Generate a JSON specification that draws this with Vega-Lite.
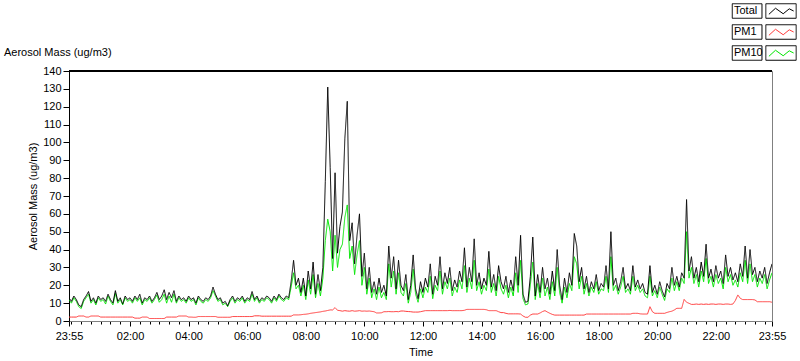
{
  "$schema": "https://vega.github.io/schema/vega-lite/v6.json",
  "width": 703,
  "height": 250,
  "autosize": {"type": "none"},
  "padding": {"left": 69, "top": 71, "right": 28, "bottom": 40},
  "background": "white",
  "title": {"text": "Aerosol Mass (ug/m3)", "anchor": "start", "frame": "group", "dx": -65, "offset": -58.5, "fontSize": 11, "fontWeight": "normal", "font": "Liberation Sans", "color": "#000"},
  "data": {"values": [
    {"t":0,"Total":13,"PM1":2.2,"PM10":12},{"t":5,"Total":11,"PM1":2.2,"PM10":10},{"t":10,"Total":14,"PM1":2.2,"PM10":13},{"t":15,"Total":12,"PM1":2.2,"PM10":11},
    {"t":20,"Total":9,"PM1":2.8,"PM10":8},{"t":25,"Total":8,"PM1":2.8,"PM10":7},{"t":30,"Total":12,"PM1":2.8,"PM10":11},{"t":35,"Total":14,"PM1":2.2,"PM10":13},
    {"t":40,"Total":16.5,"PM1":2.2,"PM10":15},{"t":45,"Total":11,"PM1":2.8,"PM10":10},{"t":50,"Total":13,"PM1":2.8,"PM10":12},{"t":55,"Total":10,"PM1":2.8,"PM10":9},
    {"t":60,"Total":14,"PM1":2.8,"PM10":13},{"t":65,"Total":12,"PM1":2.2,"PM10":11},{"t":70,"Total":13,"PM1":2.2,"PM10":12},{"t":75,"Total":11,"PM1":2.2,"PM10":9.5},
    {"t":80,"Total":15,"PM1":2.2,"PM10":14},{"t":85,"Total":12,"PM1":2.2,"PM10":11},{"t":90,"Total":10,"PM1":2.2,"PM10":9},{"t":95,"Total":17,"PM1":2.2,"PM10":15.5},
    {"t":100,"Total":11,"PM1":2.2,"PM10":10},{"t":105,"Total":13,"PM1":2.2,"PM10":12},{"t":110,"Total":9.5,"PM1":2.2,"PM10":9},{"t":115,"Total":14,"PM1":2.2,"PM10":13},
    {"t":120,"Total":12,"PM1":2.2,"PM10":11},{"t":125,"Total":13,"PM1":2.2,"PM10":12},{"t":130,"Total":11,"PM1":2.2,"PM10":10},{"t":135,"Total":14,"PM1":1.6,"PM10":13},
    {"t":140,"Total":12,"PM1":1.6,"PM10":11},{"t":145,"Total":15,"PM1":1.6,"PM10":13},{"t":150,"Total":10,"PM1":2.2,"PM10":9},{"t":155,"Total":13,"PM1":2.2,"PM10":12},
    {"t":160,"Total":12,"PM1":2.2,"PM10":11},{"t":165,"Total":14,"PM1":1.4,"PM10":13},{"t":170,"Total":11,"PM1":1.4,"PM10":10},{"t":175,"Total":13,"PM1":1.4,"PM10":12},
    {"t":180,"Total":16,"PM1":1.4,"PM10":14.5},{"t":185,"Total":12,"PM1":1.4,"PM10":10.5},{"t":190,"Total":14,"PM1":1.4,"PM10":12},{"t":195,"Total":17.5,"PM1":1.4,"PM10":15},
    {"t":200,"Total":12,"PM1":2.2,"PM10":10},{"t":205,"Total":16,"PM1":2.2,"PM10":14},{"t":210,"Total":13,"PM1":2.2,"PM10":10.5},{"t":215,"Total":17,"PM1":2.2,"PM10":15},
    {"t":220,"Total":11,"PM1":2.2,"PM10":10},{"t":225,"Total":14,"PM1":2.8,"PM10":13},{"t":230,"Total":12,"PM1":2.8,"PM10":11},{"t":235,"Total":13,"PM1":2.8,"PM10":12},
    {"t":240,"Total":11,"PM1":2.8,"PM10":10},{"t":245,"Total":14,"PM1":2.2,"PM10":13},{"t":250,"Total":12,"PM1":2.2,"PM10":11},{"t":255,"Total":13,"PM1":2.1,"PM10":12},
    {"t":260,"Total":10,"PM1":2.1,"PM10":9},{"t":265,"Total":14,"PM1":2.5,"PM10":13},{"t":270,"Total":12,"PM1":2.5,"PM10":11},{"t":275,"Total":11,"PM1":2.5,"PM10":10},
    {"t":280,"Total":13,"PM1":2.5,"PM10":12},{"t":285,"Total":12,"PM1":2.5,"PM10":11},{"t":290,"Total":14,"PM1":2.5,"PM10":13},{"t":295,"Total":19,"PM1":2.5,"PM10":17},
    {"t":300,"Total":15,"PM1":2.5,"PM10":14},{"t":305,"Total":12,"PM1":2.1,"PM10":11},{"t":310,"Total":13,"PM1":2.1,"PM10":12},{"t":315,"Total":10,"PM1":2.1,"PM10":9},
    {"t":320,"Total":11,"PM1":2.1,"PM10":10},{"t":325,"Total":8.5,"PM1":2.1,"PM10":8},{"t":330,"Total":12,"PM1":2.1,"PM10":11},{"t":335,"Total":14,"PM1":2.5,"PM10":13},
    {"t":340,"Total":11,"PM1":2.5,"PM10":10},{"t":345,"Total":13,"PM1":2.5,"PM10":12},{"t":350,"Total":12,"PM1":2.5,"PM10":11},{"t":355,"Total":14,"PM1":2.5,"PM10":13},
    {"t":360,"Total":11,"PM1":2.5,"PM10":10},{"t":365,"Total":13,"PM1":2.5,"PM10":12},{"t":370,"Total":12,"PM1":2.5,"PM10":11},{"t":375,"Total":16.5,"PM1":2.5,"PM10":15},
    {"t":380,"Total":12,"PM1":2.9,"PM10":11},{"t":385,"Total":14,"PM1":2.9,"PM10":13},{"t":390,"Total":11,"PM1":2.9,"PM10":10},{"t":395,"Total":13,"PM1":2.7,"PM10":12},
    {"t":400,"Total":12,"PM1":2.7,"PM10":11},{"t":405,"Total":14,"PM1":2.7,"PM10":13},{"t":410,"Total":13,"PM1":2.7,"PM10":12},{"t":415,"Total":11,"PM1":2.7,"PM10":10},
    {"t":420,"Total":14,"PM1":2.7,"PM10":13},{"t":425,"Total":12,"PM1":2.7,"PM10":11},{"t":430,"Total":15,"PM1":2.7,"PM10":14},{"t":435,"Total":13,"PM1":2.7,"PM10":12},
    {"t":440,"Total":12,"PM1":2.7,"PM10":11},{"t":445,"Total":14,"PM1":2.7,"PM10":13},{"t":450,"Total":13,"PM1":2.7,"PM10":12},{"t":455,"Total":22,"PM1":2.7,"PM10":19},
    {"t":460,"Total":34,"PM1":3.4,"PM10":27},{"t":465,"Total":20,"PM1":3.4,"PM10":18},{"t":470,"Total":24,"PM1":3.4,"PM10":20},
    {"t":475,"Total":16,"PM1":3.5,"PM10":14},{"t":480,"Total":24,"PM1":3.7,"PM10":20},{"t":485,"Total":14,"PM1":3.8,"PM10":12},{"t":490,"Total":28,"PM1":4.0,"PM10":23},
    {"t":495,"Total":18,"PM1":4.3,"PM10":15},{"t":500,"Total":33,"PM1":4.5,"PM10":26},{"t":505,"Total":15,"PM1":4.7,"PM10":13},{"t":510,"Total":26,"PM1":4.9,"PM10":21},
    {"t":515,"Total":17,"PM1":5.1,"PM10":14},{"t":520,"Total":30,"PM1":5.4,"PM10":24},{"t":525,"Total":78,"PM1":5.6,"PM10":45},{"t":530,"Total":131,"PM1":5.9,"PM10":57},
    {"t":535,"Total":86,"PM1":6.2,"PM10":50},{"t":540,"Total":35,"PM1":6.2,"PM10":28},{"t":545,"Total":83,"PM1":7.5,"PM10":48},{"t":550,"Total":38,"PM1":6.0,"PM10":30},
    {"t":555,"Total":53,"PM1":5.8,"PM10":40},{"t":560,"Total":61,"PM1":5.5,"PM10":43},{"t":565,"Total":102,"PM1":5.8,"PM10":58},{"t":570,"Total":123,"PM1":5.6,"PM10":65},
    {"t":575,"Total":45,"PM1":5.5,"PM10":35},{"t":580,"Total":55,"PM1":5.8,"PM10":42},{"t":585,"Total":32,"PM1":5.5,"PM10":26},{"t":590,"Total":48,"PM1":5.6,"PM10":37},
    {"t":595,"Total":60,"PM1":5.8,"PM10":45},{"t":600,"Total":25,"PM1":5.5,"PM10":20},{"t":605,"Total":38,"PM1":5.6,"PM10":30},{"t":610,"Total":18,"PM1":5.5,"PM10":15},
    {"t":615,"Total":30,"PM1":5.6,"PM10":24},{"t":620,"Total":16,"PM1":5.4,"PM10":13},{"t":625,"Total":22,"PM1":5.2,"PM10":18},{"t":630,"Total":15,"PM1":4.5,"PM10":12},
    {"t":635,"Total":24,"PM1":4.5,"PM10":19},{"t":640,"Total":16,"PM1":4.6,"PM10":13},{"t":645,"Total":20,"PM1":5.2,"PM10":16},{"t":650,"Total":14,"PM1":5.2,"PM10":12},
    {"t":655,"Total":42,"PM1":5.3,"PM10":32},{"t":660,"Total":24,"PM1":5.2,"PM10":19},{"t":665,"Total":36,"PM1":5.2,"PM10":28},{"t":670,"Total":18,"PM1":5.3,"PM10":15},
    {"t":675,"Total":34,"PM1":5.2,"PM10":27},{"t":680,"Total":20,"PM1":5.6,"PM10":16},
    {"t":685,"Total":17,"PM1":5.6,"PM10":14},{"t":690,"Total":26,"PM1":5.4,"PM10":21},{"t":695,"Total":12,"PM1":5.3,"PM10":10},{"t":700,"Total":20,"PM1":5.2,"PM10":16},
    {"t":705,"Total":37,"PM1":5.0,"PM10":29},{"t":710,"Total":18,"PM1":5.0,"PM10":15},{"t":715,"Total":12.5,"PM1":5.0,"PM10":10.5},{"t":720,"Total":22,"PM1":5.2,"PM10":18},
    {"t":725,"Total":16,"PM1":5.5,"PM10":13},{"t":730,"Total":24,"PM1":5.8,"PM10":19},{"t":735,"Total":19,"PM1":5.8,"PM10":16},{"t":740,"Total":32,"PM1":5.8,"PM10":25},
    {"t":745,"Total":15,"PM1":5.8,"PM10":12.5},{"t":750,"Total":25,"PM1":5.8,"PM10":20},{"t":755,"Total":20,"PM1":5.8,"PM10":17},{"t":760,"Total":36,"PM1":5.8,"PM10":28},
    {"t":765,"Total":18,"PM1":5.8,"PM10":15},{"t":770,"Total":27,"PM1":5.8,"PM10":22},{"t":775,"Total":21,"PM1":5.8,"PM10":18},{"t":780,"Total":30,"PM1":5.9,"PM10":24},
    {"t":785,"Total":17,"PM1":5.8,"PM10":14},{"t":790,"Total":23,"PM1":5.8,"PM10":19},{"t":795,"Total":19,"PM1":5.8,"PM10":16},{"t":800,"Total":28,"PM1":5.8,"PM10":23},
    {"t":805,"Total":22,"PM1":5.8,"PM10":18},{"t":810,"Total":41,"PM1":6.0,"PM10":31},{"t":815,"Total":19,"PM1":6.5,"PM10":16},{"t":820,"Total":30,"PM1":6.5,"PM10":24},
    {"t":825,"Total":22,"PM1":6.5,"PM10":18},{"t":830,"Total":46,"PM1":6.5,"PM10":34},{"t":835,"Total":20,"PM1":6.5,"PM10":17},{"t":840,"Total":27,"PM1":6.5,"PM10":22},
    {"t":845,"Total":18,"PM1":6.5,"PM10":15},{"t":850,"Total":24,"PM1":6.5,"PM10":20},{"t":855,"Total":20,"PM1":6.3,"PM10":17},{"t":860,"Total":39,"PM1":5.8,"PM10":29},
    {"t":865,"Total":19,"PM1":5.8,"PM10":16},{"t":870,"Total":26,"PM1":5.8,"PM10":21},{"t":875,"Total":17,"PM1":5.8,"PM10":14},{"t":880,"Total":31,"PM1":5.2,"PM10":25},
    {"t":885,"Total":22,"PM1":4.7,"PM10":18},{"t":890,"Total":18,"PM1":4.7,"PM10":15},{"t":895,"Total":25,"PM1":4.3,"PM10":20},{"t":900,"Total":16,"PM1":4.0,"PM10":13},
    {"t":905,"Total":23,"PM1":4.0,"PM10":19},{"t":910,"Total":17,"PM1":4.0,"PM10":14},{"t":915,"Total":36,"PM1":4.0,"PM10":27},{"t":920,"Total":20,"PM1":4.0,"PM10":16},
    {"t":925,"Total":48,"PM1":3.9,"PM10":34},{"t":930,"Total":15,"PM1":2.8,"PM10":12.5},
    {"t":935,"Total":10.5,"PM1":2.1,"PM10":9},{"t":940,"Total":11,"PM1":2.1,"PM10":9.5},{"t":945,"Total":25,"PM1":3.3,"PM10":20},{"t":950,"Total":47,"PM1":3.9,"PM10":33},
    {"t":955,"Total":14,"PM1":3.9,"PM10":12},{"t":960,"Total":26,"PM1":3.9,"PM10":21},{"t":965,"Total":16,"PM1":4.5,"PM10":13},{"t":970,"Total":30,"PM1":5.3,"PM10":24},
    {"t":975,"Total":18,"PM1":5.8,"PM10":14},{"t":980,"Total":24,"PM1":5.0,"PM10":19},{"t":985,"Total":15,"PM1":4.3,"PM10":12},{"t":990,"Total":28,"PM1":3.7,"PM10":22},
    {"t":995,"Total":17,"PM1":3.3,"PM10":14},{"t":1000,"Total":40,"PM1":3.3,"PM10":30},{"t":1005,"Total":20,"PM1":3.3,"PM10":16},{"t":1010,"Total":12,"PM1":3.3,"PM10":10},
    {"t":1015,"Total":24,"PM1":3.3,"PM10":19},{"t":1020,"Total":16,"PM1":3.3,"PM10":13},{"t":1025,"Total":27,"PM1":3.3,"PM10":21},{"t":1030,"Total":20,"PM1":3.3,"PM10":17},
    {"t":1035,"Total":49,"PM1":3.3,"PM10":36},{"t":1040,"Total":42,"PM1":3.3,"PM10":32},{"t":1045,"Total":22,"PM1":3.3,"PM10":18},{"t":1050,"Total":30,"PM1":3.3,"PM10":25},
    {"t":1055,"Total":18,"PM1":3.3,"PM10":15},{"t":1060,"Total":25,"PM1":3.9,"PM10":21},{"t":1065,"Total":16,"PM1":3.9,"PM10":14},{"t":1070,"Total":22,"PM1":3.9,"PM10":19},
    {"t":1075,"Total":18,"PM1":3.9,"PM10":16},{"t":1080,"Total":26,"PM1":3.9,"PM10":22},{"t":1085,"Total":17,"PM1":3.9,"PM10":15},{"t":1090,"Total":21,"PM1":3.9,"PM10":18},
    {"t":1095,"Total":19,"PM1":3.9,"PM10":17},{"t":1100,"Total":31,"PM1":3.9,"PM10":25},{"t":1105,"Total":18,"PM1":3.9,"PM10":16},{"t":1110,"Total":50,"PM1":3.9,"PM10":36},
    {"t":1115,"Total":20,"PM1":3.9,"PM10":17},{"t":1120,"Total":24,"PM1":3.9,"PM10":20},{"t":1125,"Total":17,"PM1":3.9,"PM10":15},{"t":1130,"Total":22,"PM1":3.9,"PM10":19},
    {"t":1135,"Total":30,"PM1":3.9,"PM10":25},{"t":1140,"Total":18,"PM1":3.9,"PM10":16},{"t":1145,"Total":21,"PM1":3.9,"PM10":18},{"t":1150,"Total":17,"PM1":3.9,"PM10":15},
    {"t":1155,"Total":31,"PM1":4.3,"PM10":25},{"t":1160,"Total":19,"PM1":4.3,"PM10":17},{"t":1165,"Total":23,"PM1":4.3,"PM10":20},{"t":1170,"Total":18,"PM1":4.0,"PM10":16},
    {"t":1175,"Total":21,"PM1":3.9,"PM10":18},{"t":1180,"Total":16,"PM1":3.9,"PM10":14},
    {"t":1185,"Total":15,"PM1":3.9,"PM10":13},{"t":1190,"Total":31,"PM1":8.0,"PM10":25},{"t":1195,"Total":16,"PM1":5.2,"PM10":14},{"t":1200,"Total":20,"PM1":4.3,"PM10":17},
    {"t":1205,"Total":15,"PM1":4.3,"PM10":13},{"t":1210,"Total":22,"PM1":4.3,"PM10":19},{"t":1215,"Total":17,"PM1":4.3,"PM10":15},{"t":1220,"Total":13.5,"PM1":4.3,"PM10":11.5},
    {"t":1225,"Total":21,"PM1":4.8,"PM10":18},{"t":1230,"Total":18,"PM1":5.2,"PM10":16},{"t":1235,"Total":30,"PM1":5.5,"PM10":24},{"t":1240,"Total":20,"PM1":6.2,"PM10":17},
    {"t":1245,"Total":25,"PM1":7.1,"PM10":22},{"t":1250,"Total":19,"PM1":7.1,"PM10":17},{"t":1255,"Total":27,"PM1":7.1,"PM10":24},{"t":1260,"Total":24,"PM1":12.1,"PM10":21},
    {"t":1265,"Total":68,"PM1":10.5,"PM10":50},{"t":1270,"Total":28,"PM1":9.9,"PM10":24},{"t":1275,"Total":36,"PM1":9.3,"PM10":30},{"t":1280,"Total":24,"PM1":9.3,"PM10":21},
    {"t":1285,"Total":30,"PM1":9.5,"PM10":26},{"t":1290,"Total":22,"PM1":9.3,"PM10":19},{"t":1295,"Total":33,"PM1":9.5,"PM10":28},{"t":1300,"Total":25,"PM1":9.3,"PM10":22},
    {"t":1305,"Total":43,"PM1":9.5,"PM10":35},{"t":1310,"Total":24,"PM1":9.3,"PM10":21},{"t":1315,"Total":29,"PM1":9.5,"PM10":25},{"t":1320,"Total":22,"PM1":9.5,"PM10":19},
    {"t":1325,"Total":31,"PM1":9.3,"PM10":26},{"t":1330,"Total":24,"PM1":9.5,"PM10":21},{"t":1335,"Total":28,"PM1":9.5,"PM10":24},{"t":1340,"Total":21,"PM1":9.3,"PM10":18},
    {"t":1345,"Total":37,"PM1":9.5,"PM10":30},{"t":1350,"Total":25,"PM1":9.5,"PM10":22},{"t":1355,"Total":30,"PM1":9.3,"PM10":26},{"t":1360,"Total":23,"PM1":9.5,"PM10":20},
    {"t":1365,"Total":27,"PM1":11.5,"PM10":23},{"t":1370,"Total":22,"PM1":14.6,"PM10":19},{"t":1375,"Total":32,"PM1":12.7,"PM10":27},{"t":1380,"Total":25,"PM1":12.0,"PM10":22},
    {"t":1385,"Total":42,"PM1":12.0,"PM10":34},{"t":1390,"Total":24,"PM1":12.0,"PM10":21},{"t":1395,"Total":40,"PM1":12.0,"PM10":32},{"t":1400,"Total":26,"PM1":12.0,"PM10":22},
    {"t":1405,"Total":30,"PM1":11.8,"PM10":26},{"t":1410,"Total":22,"PM1":10.8,"PM10":19},{"t":1415,"Total":28,"PM1":10.8,"PM10":24},{"t":1420,"Total":24,"PM1":10.8,"PM10":21},
    {"t":1425,"Total":30,"PM1":10.8,"PM10":26},{"t":1430,"Total":21,"PM1":10.8,"PM10":18},{"t":1435,"Total":27,"PM1":10.8,"PM10":23},{"t":1440,"Total":32,"PM1":10.5,"PM10":27}
  ]},
  "layer": [
    {
      "mark": {"type": "line", "strokeWidth": 1, "clip": true},
      "encoding": {
        "x": {"field": "t", "type": "quantitative", "title": "Time",
          "scale": {"domain": [0, 1440], "nice": false, "zero": false},
          "axis": {
            "values": [0,5,25,45,65,85,105,125,145,165,185,205,225,245,265,285,305,325,345,365,385,405,425,445,465,485,505,525,545,565,585,605,625,645,665,685,705,725,745,765,785,805,825,845,865,885,905,925,945,965,985,1005,1025,1045,1065,1085,1105,1125,1145,1165,1185,1205,1225,1245,1265,1285,1305,1325,1345,1365,1385,1405,1425,1440],
            "tickCount": 500,
            "labelExpr": "(datum.value == 0 || datum.value == 1440 || (datum.value > 5 && (datum.value - 5) % 120 == 0)) ? utcFormat((datum.value + 1435) * 60000, '%H:%M') : ''",
            "tickSize": {"condition": {"test": "datum.value == 0 || datum.value == 1440 || (datum.value > 5 && (datum.value - 5) % 120 == 0)", "value": 5}, "value": 3},
            "labelFlush": false, "labelOverlap": false, "labelBound": false, "labelPadding": 4,
            "domainColor": "#808080", "titlePadding": 5
          }},
        "y": {"field": "PM10", "type": "quantitative", "title": "Aerosol Mass (ug/m3)",
          "scale": {"domain": [0, 140], "nice": false},
          "axis": {"values": [0,10,20,30,40,50,60,70,80,90,100,110,120,130,140], "tickCount": 100, "tickSize": 6, "labelPadding": 2, "titlePadding": 4, "labelOverlap": false, "labelBound": false}},
        "color": {"datum": "PM10", "type": "nominal",
          "scale": {"domain": ["Total", "PM1", "PM10"], "range": ["#000000", "#ff3c3c", "#00e600"]},
          "legend": {"title": null, "orient": "none", "legendX": 700.5, "legendY": -71.5,
            "symbolType": "M0,-0.66M0,0.66M-1.1,0.3L-0.5,-0.25L0.2,0.25L0.75,-0.2L1.15,0",
            "symbolSize": 484, "symbolStrokeWidth": 1, "symbolFillColor": "transparent",
            "labelAlign": "left", "labelOffset": -58.5, "labelFontSize": 11, "labelFont": "Liberation Sans", "labelColor": "#000",
            "rowPadding": 0, "padding": 0}},
        "strokeDash": {"datum": "PM10", "type": "nominal",
          "scale": {"range": [[1, 0], [1, 0], [1, 0]]},
          "legend": {"title": null, "orient": "none", "legendX": 700.5, "legendY": -71.5,
            "symbolType": "M0,-0.66M0,0.66M-4.43,-0.66H-1.73V0.66H-4.43Z M-1.38,-0.66H1.38V0.66H-1.38Z",
            "symbolSize": 484, "symbolStrokeWidth": 1, "symbolFillColor": "transparent", "symbolStrokeColor": "#000",
            "labelExpr": "''", "labelFontSize": 11, "labelOffset": -58.5,
            "rowPadding": 0, "padding": 0,
            "encode": {"symbols": {"update": {"stroke": {"value": "#000"}, "strokeWidth": {"value": 1}, "opacity": {"value": 1}}}}}}
      }
    },
    {
      "mark": {"type": "line", "strokeWidth": 1, "clip": true},
      "encoding": {
        "x": {"field": "t", "type": "quantitative"},
        "y": {"field": "PM1", "type": "quantitative", "title": "Aerosol Mass (ug/m3)"},
        "color": {"datum": "PM1", "type": "nominal"},
        "strokeDash": {"datum": "PM1", "type": "nominal"}
      }
    },
    {
      "mark": {"type": "line", "strokeWidth": 1, "clip": true},
      "encoding": {
        "x": {"field": "t", "type": "quantitative"},
        "y": {"field": "Total", "type": "quantitative", "title": "Aerosol Mass (ug/m3)"},
        "color": {"datum": "Total", "type": "nominal"},
        "strokeDash": {"datum": "Total", "type": "nominal"}
      }
    },
    {
      "mark": {"type": "rule", "color": "#000", "strokeWidth": 1},
      "encoding": {"y": {"datum": 140}}
    }
  ],
  "config": {
    "font": "Liberation Sans",
    "view": {"stroke": "#808080", "strokeWidth": 1},
    "axis": {"labelFont": "Liberation Sans", "labelFontSize": 11, "labelColor": "#000", "titleFont": "Liberation Sans", "titleFontSize": 11, "titleFontWeight": "normal", "titleColor": "#000", "tickColor": "#000", "domainColor": "#000", "grid": false, "labelOverlap": false}
  }
}
